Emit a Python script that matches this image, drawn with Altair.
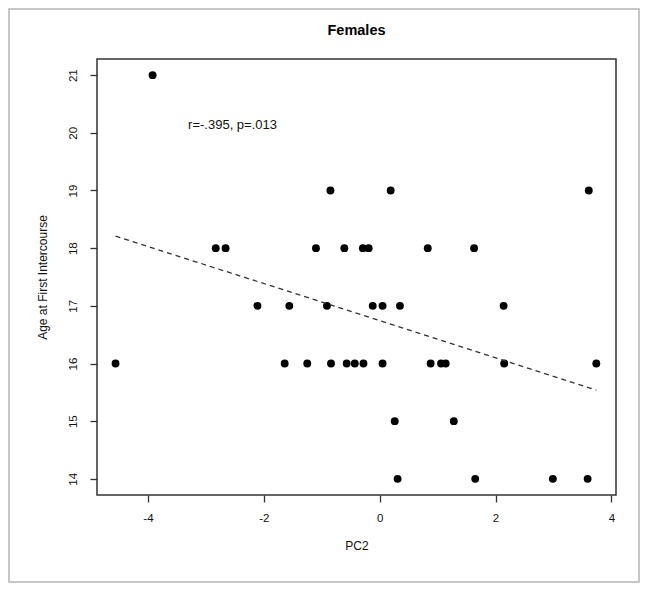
import altair as alt
import pandas as pd

# ---- data ----
pc2 = [
    -3.92,                                   # age 21
    -0.85, 0.19, 3.61,                       # age 19
    -2.83, -2.66, -1.10, -0.61, -0.29, -0.19, 0.83, 1.63,   # age 18
    -2.11, -1.56, -0.91, -0.12, 0.05, 0.35, 2.14,           # age 17
    -4.56, -1.64, -1.25, -0.84, -0.57, -0.43, -0.28, 0.05,
    0.88, 1.06, 1.14, 2.15, 3.74,                           # age 16
    0.26, 1.28,                              # age 15
    0.31, 1.65, 2.99, 3.59,                  # age 14
]
age = (
    [21]
    + [19] * 3
    + [18] * 8
    + [17] * 7
    + [16] * 13
    + [15] * 2
    + [14] * 4
)
fit_x = [-4.56, 3.74]
fit_y = [18.21, 15.54]
x_ticks = [-4, -2, 0, 2, 4]
y_ticks = [14, 15, 16, 17, 18, 19, 20, 21]
chart_title = "Females"
x_title = "PC2"
y_title = "Age at First Intercourse"
annotation = ["r=-.395, p=.013"]
ann_x = [-2.54]
ann_y = [20.13]

FONT = "Liberation Sans"
W, H = 519, 436

df = pd.DataFrame({"pc2": pc2, "age": age})
fit_df = pd.DataFrame({"pc2": fit_x, "age": fit_y})
ann_df = pd.DataFrame({"pc2": ann_x, "age": ann_y, "t": annotation})
one = pd.DataFrame({"a": [0]})

xscale = alt.Scale(domain=[-4.88, 4.08], nice=False, zero=False)
yscale = alt.Scale(domain=[13.72, 21.28], nice=False, zero=False)

X = alt.X("pc2:Q", scale=xscale, title=x_title,
          axis=alt.Axis(values=x_ticks, labelExpr="'' + datum.value",
                        tickSize=7, labelPadding=10, titlePadding=17))
Y = alt.Y("age:Q", scale=yscale, title=y_title,
          axis=alt.Axis(values=y_ticks, labelExpr="'' + datum.value",
                        tickSize=7, labelPadding=12, labelAngle=270,
                        labelAlign="center", labelBaseline="bottom",
                        titlePadding=18))

points = alt.Chart(df).mark_circle(size=62, color="black", opacity=1).encode(x=X, y=Y)

fit = alt.Chart(fit_df).mark_line(
    color="#333333", strokeWidth=1.3, strokeDash=[5, 4]
).encode(x=X, y=Y)

ann = alt.Chart(ann_df).mark_text(
    fontSize=13, font=FONT, color="#111111", align="center", baseline="middle"
).encode(x=X, y=Y, text="t:N")

title = alt.Chart(one).mark_text(
    text=chart_title, fontSize=14.5, fontWeight="bold", font=FONT,
    color="black", align="center", baseline="middle"
).encode(x=alt.value(W / 2), y=alt.value(-28))

frame = alt.Chart(one).mark_rect(
    fillOpacity=0, stroke="#b5b5b5", strokeWidth=1.5
).encode(
    x=alt.value(-88), x2=alt.value(W + 23),
    y=alt.value(-50), y2=alt.value(H + 87),
)

chart = alt.layer(points, fit, ann, title, frame).properties(
    width=W, height=H,
    autosize=alt.AutoSizeParams(type="none"),
    padding={"left": 89, "top": 51, "right": 25, "bottom": 89},
    background="white",
).configure_view(
    stroke="#333333", strokeWidth=1.5
).configure_axis(
    grid=False, domain=False, tickColor="#333333", tickWidth=1.3,
    labelFont=FONT, labelFontSize=11.5, labelColor="#111111",
    titleFont=FONT, titleFontSize=12, titleFontWeight="normal", titleColor="#111111",
)

chart.save("out.html", embed_options={"renderer": "svg", "actions": False})
